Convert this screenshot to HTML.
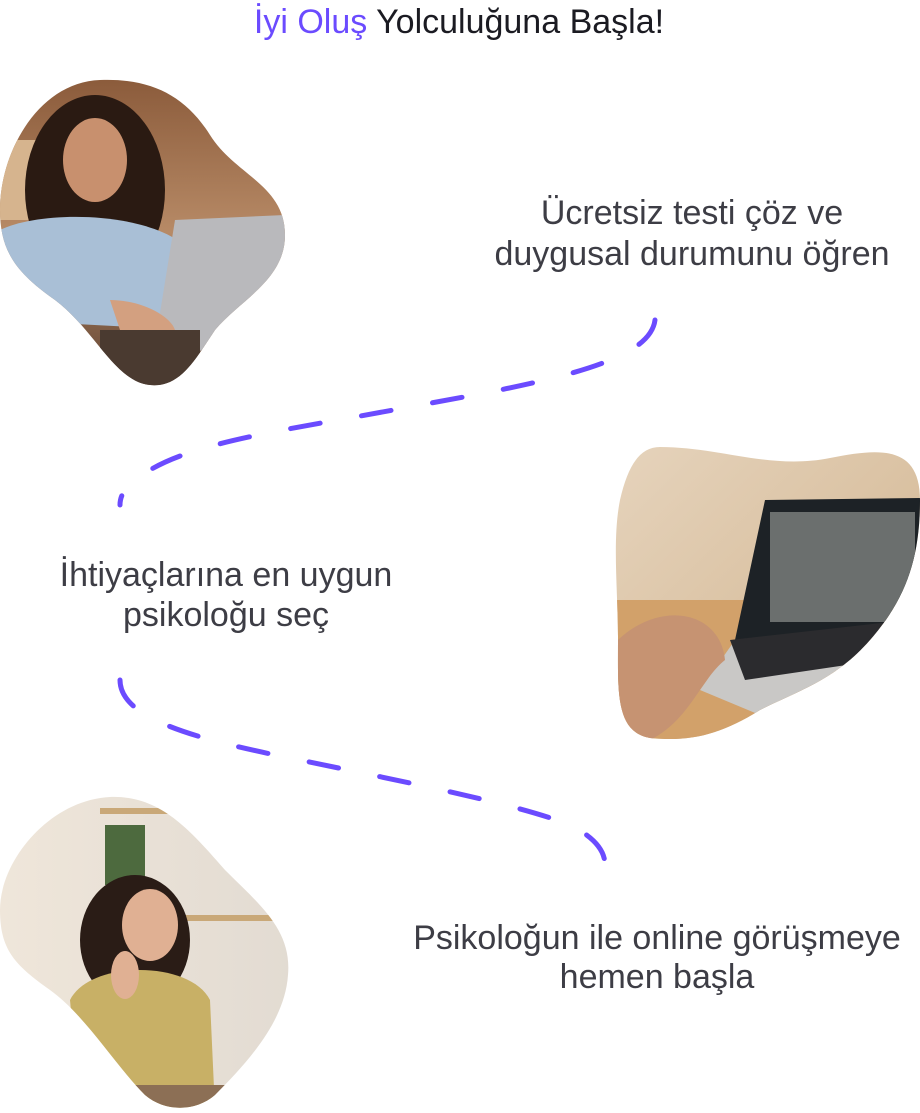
<!DOCTYPE html>
<html><head><meta charset="utf-8"><style>
html,body{margin:0;padding:0;background:#fff;width:920px;height:1113px;overflow:hidden}
svg{display:block}
text{font-family:"Liberation Sans",sans-serif}
</style></head><body>
<svg width="920" height="1113" viewBox="0 0 920 1113" xmlns="http://www.w3.org/2000/svg">
<defs>
<clipPath id="c1"><path d="M100,80 C150,78 185,95 210,135 C235,175 285,185 285,235 C285,280 240,300 215,330 C195,360 180,388 150,385 C115,382 95,330 55,300 C15,272 0,250 0,210 C0,150 40,82 100,80 Z"/></clipPath>
<clipPath id="c2"><path d="M660,447 C720,447 770,470 830,458 C880,448 920,445 920,500 C920,560 905,600 870,640 C835,680 800,690 760,710 C720,735 690,742 650,738 C615,732 618,690 618,640 C618,590 612,540 620,500 C628,465 640,447 660,447 Z"/></clipPath>
<clipPath id="c3"><path d="M110,797 C160,795 190,830 225,870 C260,905 292,930 288,975 C285,1020 250,1060 215,1095 C195,1112 165,1112 145,1095 C115,1065 85,1015 50,990 C15,965 0,950 0,910 C0,860 50,800 110,797 Z"/></clipPath>
<linearGradient id="g1" x1="0" y1="0" x2="0" y2="1"><stop offset="0" stop-color="#8a5a3a"/><stop offset=".5" stop-color="#b78a66"/><stop offset="1" stop-color="#5c4030"/></linearGradient>
<linearGradient id="g2" x1="0" y1="0" x2="1" y2="1"><stop offset="0" stop-color="#e6d4bd"/><stop offset=".6" stop-color="#d9c0a0"/><stop offset="1" stop-color="#c99a62"/></linearGradient>
<linearGradient id="g3" x1="0" y1="0" x2="1" y2="0"><stop offset="0" stop-color="#efe6da"/><stop offset="1" stop-color="#e2dbd2"/></linearGradient>
</defs>

<text x="459" y="33" text-anchor="middle" font-size="34" fill="#1b1b22"><tspan fill="#6b4bff">İyi Oluş</tspan> Yolculuğuna Başla!</text>

<g clip-path="url(#c1)">
<rect x="0" y="75" width="290" height="315" fill="url(#g1)"/>
<rect x="0" y="140" width="60" height="80" fill="#d6b48e"/>
<ellipse cx="95" cy="190" rx="70" ry="95" fill="#2a1a12"/>
<ellipse cx="95" cy="160" rx="32" ry="42" fill="#c8906e"/>
<path d="M0,230 C40,210 150,210 190,250 L190,330 L0,320 Z" fill="#a9bfd6"/>
<path d="M175,220 L285,215 L285,300 L185,360 L150,375 Z" fill="#b9b9bc"/>
<path d="M100,330 L200,330 L200,390 L100,390 Z" fill="#4a3a30"/>
<path d="M110,300 C140,300 170,315 175,330 L120,330 Z" fill="#d3a080"/>
</g>

<g clip-path="url(#c2)">
<rect x="610" y="440" width="315" height="305" fill="url(#g2)"/>
<rect x="610" y="600" width="315" height="145" fill="#d2a16a"/>
<path d="M765,500 L920,498 L920,620 L735,640 Z" fill="#1d2226"/>
<rect x="770" y="512" width="145" height="110" fill="#6b6f6e"/>
<path d="M735,640 L920,620 L890,680 L760,715 L700,690 Z" fill="#c9c8c6"/>
<path d="M730,640 L890,622 L880,660 L745,680 Z" fill="#2b2b2e"/>
<path d="M618,640 C660,600 720,610 725,660 C700,680 690,720 650,740 L618,740 Z" fill="#c69372"/>
</g>

<g clip-path="url(#c3)">
<rect x="0" y="790" width="295" height="325" fill="url(#g3)"/>
<rect x="100" y="808" width="190" height="6" fill="#c9a878"/>
<rect x="180" y="915" width="110" height="6" fill="#c9a878"/>
<rect x="105" y="825" width="40" height="60" fill="#4d6a3e"/>
<ellipse cx="135" cy="940" rx="55" ry="65" fill="#2a1c16"/>
<ellipse cx="150" cy="925" rx="28" ry="36" fill="#e0b093"/>
<path d="M70,1000 C90,960 190,960 210,1000 L215,1110 L80,1110 Z" fill="#c8b066"/>
<rect x="60" y="1085" width="230" height="30" fill="#8c6f55"/>
<ellipse cx="125" cy="975" rx="14" ry="24" fill="#e0b093"/>
</g>

<g fill="none" stroke="#6b4bff" stroke-width="5" stroke-linecap="round" stroke-dasharray="30 42">
<path d="M655,320 C650,360 560,380 420,405 C300,428 200,440 150,470 C125,485 120,495 120,505"/>
<path d="M120,680 C120,720 200,740 300,760 C420,785 520,805 570,825 C600,840 605,855 605,865"/>
</g>

<g font-size="34" fill="#3d3d45" text-anchor="middle">
<text x="692" y="224">Ücretsiz testi çöz ve</text>
<text x="692" y="265">duygusal durumunu öğren</text>
<text x="226" y="586">İhtiyaçlarına en uygun</text>
<text x="226" y="626">psikoloğu seç</text>
<text x="657" y="949">Psikoloğun ile online görüşmeye</text>
<text x="657" y="988">hemen başla</text>
</g>
</svg>
</body></html>
